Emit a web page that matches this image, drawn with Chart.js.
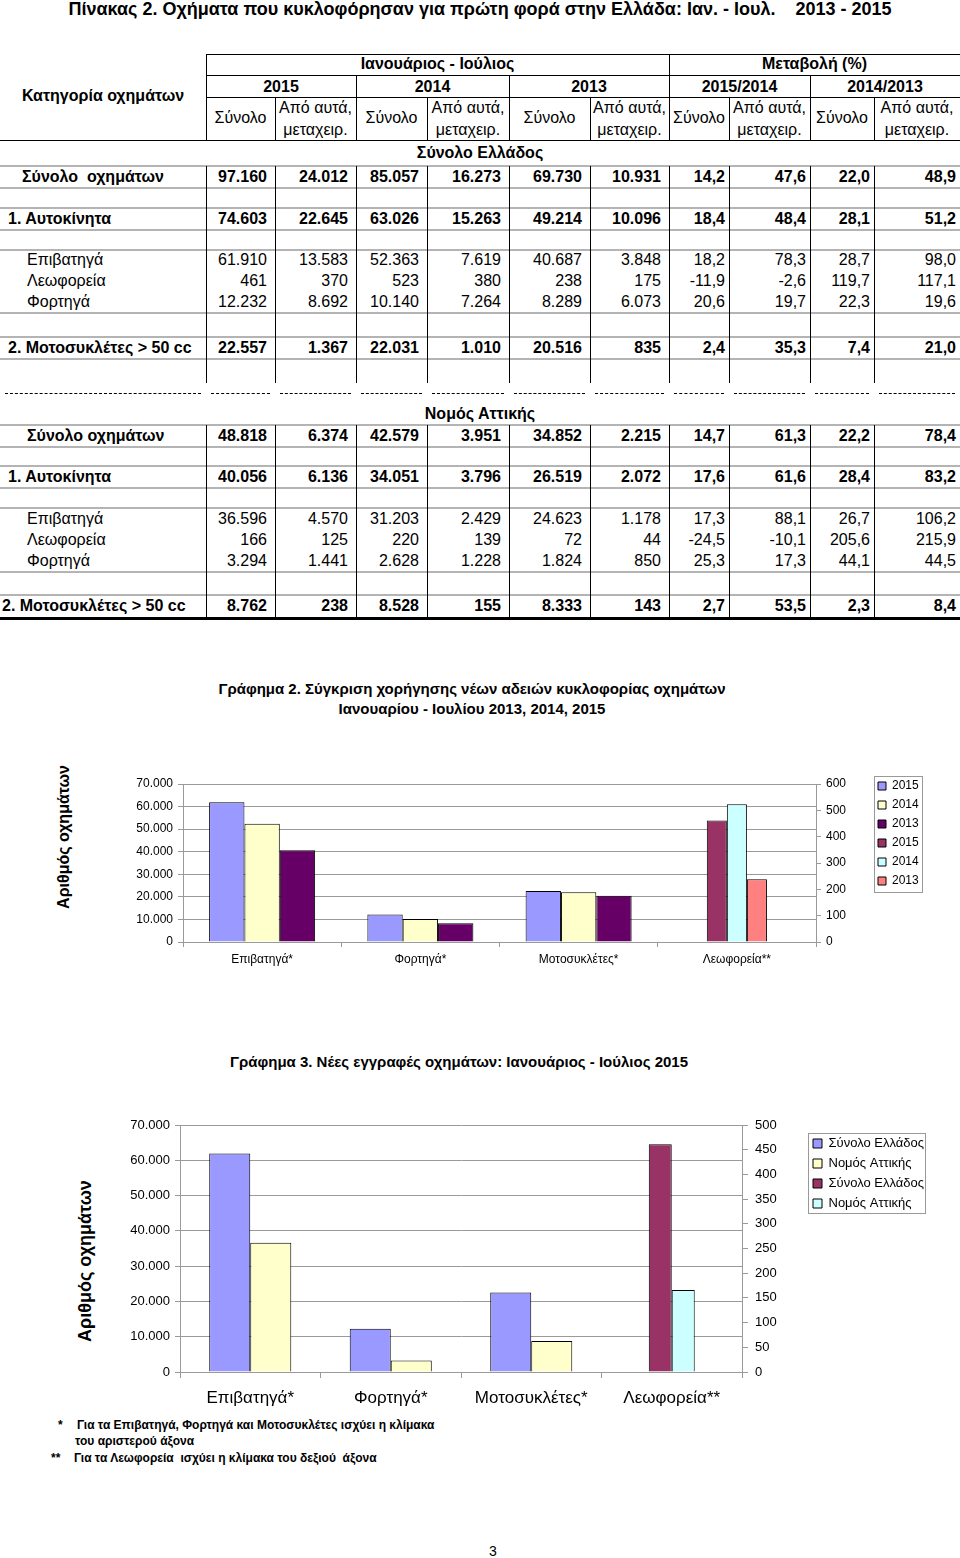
<!DOCTYPE html>
<html lang="el">
<head>
<meta charset="UTF-8" />
<meta name="viewport" content="width=device-width, initial-scale=1.0" />
<title>Οχήματα που κυκλοφόρησαν για πρώτη φορά</title>
<script src="https://cdn.jsdelivr.net/npm/chart.js@4.4.0/dist/chart.umd.min.js"></script>
<style>
  html, body { margin: 0; background: #fff; }
  #page { position: relative; width: 960px; height: 1558px; overflow: hidden;
          font-family: "Liberation Sans", Arial, sans-serif; color: #000; }
  #page div, #page canvas { position: absolute; box-sizing: border-box; }
  .cell { line-height: 22px; font-size: 16px; white-space: pre; }
  .c { text-align: center; }
  .r { text-align: right; }
  .b { font-weight: bold; }
  .line { background: #000; }
  .gray { background: #b4b4b4; }
  .dash { border-top: 1px dashed #000; }
  .note { font-size: 12px; font-weight: bold; line-height: 16px; white-space: pre; }
</style>
</head>
<body>
<div id="page">
  <div class="b c" style="left:0;top:0;width:960px;height:19px;line-height:19px;font-size:18px;white-space:pre">Πίνακας 2. Οχήματα που κυκλοφόρησαν για πρώτη φορά στην Ελλάδα: Ιαν. - Ιουλ.    2013 - 2015</div>

  <div class="b c" style="left:0;top:679px;width:944px;height:20px;line-height:20px;font-size:15px">Γράφημα 2. Σύγκριση χορήγησης νέων αδειών κυκλοφορίας οχημάτων</div>
  <div class="b c" style="left:0;top:699px;width:944px;height:20px;line-height:20px;font-size:15px">Ιανουαρίου - Ιουλίου 2013, 2014, 2015</div>
  <div class="b c" style="left:-36px;top:827px;width:200px;height:20px;line-height:20px;font-size:16px;transform:rotate(-90deg)">Αριθμός οχημάτων</div>
  <canvas id="chart2" width="830" height="205" style="left:100px;top:770px"></canvas>

  <div class="b c" style="left:0;top:1052px;width:918px;height:20px;line-height:20px;font-size:15px">Γράφημα 3. Νέες εγγραφές οχημάτων: Ιανουάριος - Ιούλιος 2015</div>
  <div class="b c" style="left:-15px;top:1250px;width:200px;height:22px;line-height:22px;font-size:18px;transform:rotate(-90deg)">Αριθμός οχημάτων</div>
  <canvas id="chart3" width="810" height="300" style="left:120px;top:1110px"></canvas>

  <div class="note" style="left:58px;top:1417px">*</div>
  <div class="note" style="left:77px;top:1417px">Για τα Επιβατηγά, Φορτηγά και Μοτοσυκλέτες ισχύει η κλίμακα</div>
  <div class="note" style="left:75px;top:1433px">του αριστερού άξονα</div>
  <div class="note" style="left:51px;top:1450px">**</div>
  <div class="note" style="left:74px;top:1450px">Για τα Λεωφορεία  ισχύει η κλίμακα του δεξιού  άξονα</div>

  <div class="c" style="left:483px;top:1542px;width:20px;height:18px;line-height:18px;font-size:14px">3</div>
</div>

<script>
// ---- chart data ----
const categories = ['Επιβατηγά*', 'Φορτηγά*', 'Μοτοσυκλέτες*', 'Λεωφορεία**'];
const years = ['2015', '2014', '2013'];
// left axis: cars, trucks, motorbikes (Σύνολο Ελλάδος)
const greece2015 = [61910, 12232, 22557, null];
const greece2014 = [52363, 10140, 22031, null];
const greece2013 = [40687, 8289, 20516, null];
// right axis: buses
const buses2015 = [null, null, null, 461];
const buses2014 = [null, null, null, 523];
const buses2013 = [null, null, null, 238];

const regions = ['Σύνολο Ελλάδος', 'Νομός Αττικής'];
const total2015 = [61910, 12232, 22557, null];
const attica2015 = [36596, 3294, 8762, null];
const busesTotal2015 = [null, null, null, 461];
const busesAttica2015 = [null, null, null, 166];

// ---- table data ----
const colEdges = [0, 206, 275, 356, 427, 509, 590, 669, 729, 810, 874, 960];
const greeceRows = [
  ['Σύνολο  οχημάτων', '97.160', '24.012', '85.057', '16.273', '69.730', '10.931', '14,2', '47,6', '22,0', '48,9'],
  ['1. Αυτοκίνητα', '74.603', '22.645', '63.026', '15.263', '49.214', '10.096', '18,4', '48,4', '28,1', '51,2'],
  ['Επιβατηγά', '61.910', '13.583', '52.363', '7.619', '40.687', '3.848', '18,2', '78,3', '28,7', '98,0'],
  ['Λεωφορεία', '461', '370', '523', '380', '238', '175', '-11,9', '-2,6', '119,7', '117,1'],
  ['Φορτηγά', '12.232', '8.692', '10.140', '7.264', '8.289', '6.073', '20,6', '19,7', '22,3', '19,6'],
  ['2. Μοτοσυκλέτες > 50 cc', '22.557', '1.367', '22.031', '1.010', '20.516', '835', '2,4', '35,3', '7,4', '21,0']
];
const atticaRows = [
  ['Σύνολο οχημάτων', '48.818', '6.374', '42.579', '3.951', '34.852', '2.215', '14,7', '61,3', '22,2', '78,4'],
  ['1. Αυτοκίνητα', '40.056', '6.136', '34.051', '3.796', '26.519', '2.072', '17,6', '61,6', '28,4', '83,2'],
  ['Επιβατηγά', '36.596', '4.570', '31.203', '2.429', '24.623', '1.178', '17,3', '88,1', '26,7', '106,2'],
  ['Λεωφορεία', '166', '125', '220', '139', '72', '44', '-24,5', '-10,1', '205,6', '215,9'],
  ['Φορτηγά', '3.294', '1.441', '2.628', '1.228', '1.824', '850', '25,3', '17,3', '44,1', '44,5'],
  ['2. Μοτοσυκλέτες > 50 cc', '8.762', '238', '8.528', '155', '8.333', '143', '2,7', '53,5', '2,3', '8,4']
];
const boldRow = [true, true, false, false, false, true];

// ---- table drawing ----
const page = document.getElementById('page');
function box(x, y, w, h, cls) {
  const d = document.createElement('div');
  d.className = cls || '';
  d.style.left = x + 'px'; d.style.top = y + 'px';
  d.style.width = w + 'px'; d.style.height = h + 'px';
  page.appendChild(d);
  return d;
}
function txt(s, x0, x1, yc, cls, padL, padR) {
  const d = box(x0, yc - 11, x1 - x0, 22, 'cell ' + (cls || ''));
  if (padL) d.style.paddingLeft = padL + 'px';
  if (padR) d.style.paddingRight = padR + 'px';
  d.textContent = s;
  return d;
}
const hline = (x0, x1, y, th, cls) => box(x0, y, x1 - x0, th || 1, cls || 'line');
const vline = (x, y0, y1) => box(x, y0, 1, y1 - y0, 'line');

// header
txt('Κατηγορία οχημάτων', 0, 206, 96, 'c b');
txt('Ιανουάριος - Ιούλιος', 206, 669, 64, 'c b');
txt('Μεταβολή (%)', 669, 960, 64, 'c b');
['2015', '2014', '2013', '2015/2014', '2014/2013'].forEach((y, i) => {
  txt(y, colEdges[1 + 2 * i], colEdges[3 + 2 * i], 87, 'c b');
  txt('Σύνολο', colEdges[1 + 2 * i], colEdges[2 + 2 * i], 118, 'c');
  txt('Από αυτά,', colEdges[2 + 2 * i], colEdges[3 + 2 * i], 108, 'c');
  txt('μεταχειρ.', colEdges[2 + 2 * i], colEdges[3 + 2 * i], 130, 'c');
});
hline(206, 960, 54); hline(206, 960, 75); hline(206, 960, 97); hline(0, 960, 140);
vline(206, 54, 140); vline(669, 54, 140);
[356, 509, 810].forEach(x => vline(x, 75, 140));
[275, 427, 590, 729, 874].forEach(x => vline(x, 97, 140));

function section(title, titleY, rows, rowY, indents, grayY, vTop, vBottom) {
  txt(title, 0, 960, titleY, 'c b');
  grayY.forEach(y => hline(0, 960, y - 1, 2, 'gray'));
  colEdges.slice(1, 11).forEach(x => vline(x, vTop, vBottom));
  rows.forEach((row, r) => {
    const cls = boldRow[r] ? 'b' : '';
    txt(row[0], 0, 206, rowY[r], cls, indents[r]);
    for (let i = 1; i < 11; i++) {
      txt(row[i], colEdges[i], colEdges[i + 1], rowY[r], 'r ' + cls, 0, i < 7 ? 8 : 4);
    }
  });
}
section('Σύνολο Ελλάδος', 153, greeceRows, [177, 219, 260, 281, 302, 348], [22, 8, 27, 27, 27, 8],
        [166, 188, 208, 230, 250, 313, 337, 359], 166, 383);
for (let i = 0; i < 11; i++) box(colEdges[i] + 5, 393, colEdges[i + 1] - colEdges[i] - 10, 1, 'dash');
section('Νομός Αττικής', 414, atticaRows, [436, 477, 519, 540, 561, 606], [27, 8, 27, 27, 27, 2],
        [425, 447, 466, 488, 508, 572, 595], 425, 617);
hline(0, 960, 617, 3);

// ---- charts ----
Chart.defaults.font.family = '"Liberation Sans", Arial, sans-serif';
Chart.defaults.color = '#000';
Chart.defaults.animation = false;

const gridGray = '#9a9a9a';
const thousands = v => String(v).replace(/\B(?=(\d{3})+(?!\d))/g, '.');

// frame round the legend items
const legendFrame = {
  id: 'legendFrame',
  afterDraw(chart, args, opts) {
    const hb = chart.legend && chart.legend.legendHitBoxes;
    if (!hb || !hb.length) return;
    const l = Math.min(...hb.map(b => b.left)) - opts.left;
    const r = Math.max(...hb.map(b => b.left + b.width)) + opts.right;
    const t = Math.min(...hb.map(b => b.top)) - opts.top;
    const bt = Math.max(...hb.map(b => b.top + b.height)) + opts.bottom;
    const ctx = chart.ctx;
    ctx.save();
    ctx.strokeStyle = '#999';
    ctx.lineWidth = 1;
    ctx.strokeRect(Math.round(l) + 0.5, Math.round(t) + 0.5, Math.round(r - l), Math.round(bt - t));
    ctx.restore();
  }
};

function bar(label, data, axis, color, catPct) {
  return {
    label, data, yAxisID: axis, backgroundColor: color,
    borderColor: '#000', borderWidth: 1,
    barPercentage: 1, categoryPercentage: catPct, skipNull: true
  };
}

new Chart(document.getElementById('chart2'), {
  type: 'bar',
  data: {
    labels: categories,
    datasets: [
      bar(years[0], greece2015, 'y', '#9999ff', 0.67),
      bar(years[1], greece2014, 'y', '#ffffcc', 0.67),
      bar(years[2], greece2013, 'y', '#660066', 0.67),
      bar(years[0], buses2015, 'y1', '#993366', 0.38),
      bar(years[1], buses2014, 'y1', '#ccffff', 0.38),
      bar(years[2], buses2013, 'y1', '#ff8080', 0.38)
    ]
  },
  options: {
    responsive: false,
    layout: { padding: { top: 3, right: 3, bottom: 5, left: 0 } },
    plugins: {
      legend: {
        position: 'right', align: 'start', maxWidth: 56,
        labels: { boxWidth: 8, boxHeight: 8, padding: 7, font: { size: 12 }, color: '#000' }
      },
      tooltip: { enabled: false },
      legendFrame: { left: 4, right: 3, top: 4, bottom: 5 }
    },
    scales: {
      x: {
        grid: { drawOnChartArea: false, offset: true, tickLength: 5, color: gridGray },
        border: { color: gridGray },
        ticks: { font: { size: 12 }, padding: 5, maxRotation: 0, autoSkip: false },
        afterFit: s => { s.height = 28; }
      },
      y: {
        position: 'left', min: 0, max: 70000,
        ticks: { stepSize: 10000, callback: thousands, font: { size: 12 }, padding: 5 },
        grid: { color: gridGray, tickLength: 5 },
        border: { color: gridGray },
        afterFit: s => { s.width = 83; s.paddingTop = 14; }
      },
      y1: {
        position: 'right', min: 0, max: 600,
        ticks: { stepSize: 100, font: { size: 12 }, padding: 5 },
        grid: { drawOnChartArea: false, color: gridGray, tickLength: 5 },
        border: { color: gridGray },
        afterFit: s => { s.width = 55; }
      }
    }
  },
  plugins: [legendFrame]
});

new Chart(document.getElementById('chart3'), {
  type: 'bar',
  data: {
    labels: categories,
    datasets: [
      bar(regions[0], total2015, 'y', '#9999ff', 0.584),
      bar(regions[1], attica2015, 'y', '#ffffcc', 0.584),
      bar(regions[0], busesTotal2015, 'y1', '#993366', 0.327),
      bar(regions[1], busesAttica2015, 'y1', '#ccffff', 0.327)
    ]
  },
  options: {
    responsive: false,
    layout: { padding: { top: 0, right: 4, bottom: 2, left: 0 } },
    plugins: {
      legend: {
        position: 'right', align: 'start', maxWidth: 120,
        title: { display: true, text: ' ', padding: { top: 19, bottom: 0 }, font: { size: 1, lineHeight: 1 } },
        labels: { boxWidth: 9, boxHeight: 9, padding: 7, font: { size: 13 }, color: '#000' }
      },
      tooltip: { enabled: false },
      legendFrame: { left: 5, right: 1, top: 4, bottom: 3 }
    },
    scales: {
      x: {
        grid: { drawOnChartArea: false, offset: true, tickLength: 6, color: gridGray },
        border: { color: gridGray },
        ticks: { font: { size: 17 }, padding: 10, maxRotation: 0, autoSkip: false },
        afterFit: s => { s.height = 36; }
      },
      y: {
        position: 'left', min: 0, max: 70000,
        ticks: { stepSize: 10000, callback: thousands, font: { size: 13 }, padding: 5 },
        grid: { color: gridGray, tickLength: 5 },
        border: { color: gridGray },
        afterFit: s => { s.width = 60; s.paddingTop = 15; }
      },
      y1: {
        position: 'right', min: 0, max: 500,
        ticks: { stepSize: 50, font: { size: 13 }, padding: 7 },
        grid: { drawOnChartArea: false, color: gridGray, tickLength: 6 },
        border: { color: gridGray },
        afterFit: s => { s.width = 64; }
      }
    }
  },
  plugins: [legendFrame]
});
</script>
</body>
</html>
